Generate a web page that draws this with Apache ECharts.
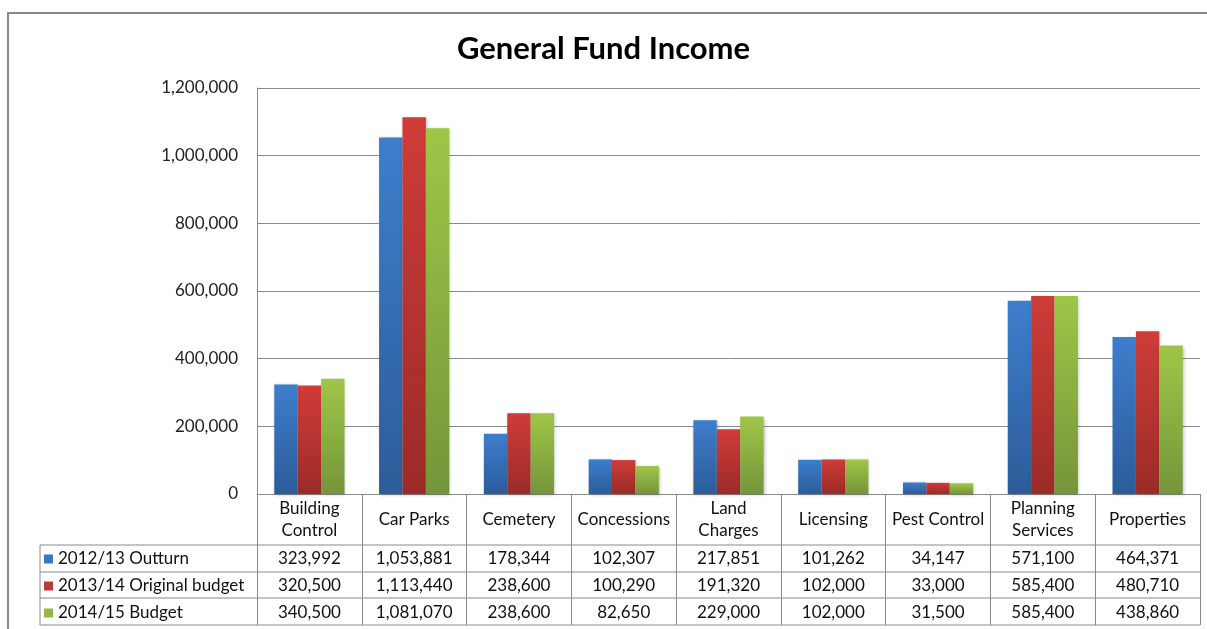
<!DOCTYPE html>
<html>
<head>
<meta charset="utf-8">
<script src="https://cdn.jsdelivr.net/npm/echarts@6/dist/echarts.min.js"></script>
<style>
html,body{margin:0;padding:0;background:#fff;}
#chart{width:1207px;height:629px;}
</style>
</head>
<body>
<div id="chart"></div>
<script>
const categories = ["Building\nControl", "Car Parks", "Cemetery", "Concessions", "Land\nCharges", "Licensing", "Pest Control", "Planning\nServices", "Properties"];
const seriesNames = ["2012/13 Outturn", "2013/14 Original budget", "2014/15 Budget"];
const outturn1213 = [323992, 1053881, 178344, 102307, 217851, 101262, 34147, 571100, 464371];
const original1314 = [320500, 1113440, 238600, 100290, 191320, 102000, 33000, 585400, 480710];
const budget1415 = [340500, 1081070, 238600, 82650, 229000, 102000, 31500, 585400, 438860];
const yTicks = [0, 200000, 400000, 600000, 800000, 1000000, 1200000];

const fmt = v => v.toLocaleString('en-US');
const FONT = 'Lato, "Open Sans", sans-serif';
const grad = (a, b) => new echarts.graphic.LinearGradient(0, 0, 0, 1, [{offset: 0, color: a}, {offset: 1, color: b}]);
const colors = [grad('#3d7ecd', '#2c5c99'), grad('#cf3c39', '#9b2b28'), grad('#9fc647', '#75953a')];
const flatColors = ['#3a76c4', '#c0393a', '#93b944'];
const allSeries = [outturn1213, original1314, budget1415];

const chart = echarts.init(document.getElementById('chart'));
const L = 40, R = 1200, gridColor = '#8a8a8a';
const hline = (y) => ({type: 'line', shape: {x1: L, y1: y, x2: R, y2: y}, style: {stroke: gridColor, lineWidth: 1}, silent: true});

const rowOffsets = [65, 92, 119];
const tableAxes = allSeries.map((arr, i) => ({
  type: 'category', gridIndex: 0, position: 'bottom', offset: rowOffsets[i],
  data: arr.map(fmt),
  axisLine: {show: false}, axisTick: {show: false}, splitLine: {show: false},
  axisLabel: {interval: 0, margin: 0, verticalAlign: 'middle', fontFamily: FONT, fontSize: 17, color: '#111'}
}));

chart.setOption({
  animation: false,
  title: {
    text: 'General Fund Income', left: 'center', top: 28,
    textStyle: {fontFamily: FONT, fontSize: 31, fontWeight: 'bold', color: '#000'}
  },
  legend: {
    orient: 'vertical', left: 44, top: 550, padding: 0, itemGap: 9,
    icon: 'rect', itemWidth: 9, itemHeight: 9,
    data: seriesNames.map((n, i) => ({name: n, itemStyle: {color: flatColors[i]}})),
    textStyle: {fontFamily: FONT, fontSize: 17, color: '#111', lineHeight: 18}
  },
  grid: {left: 257, right: 7, top: 88, bottom: 135, containLabel: false},
  xAxis: [{
    type: 'category', data: categories,
    axisLine: {show: true, lineStyle: {color: gridColor, width: 1}},
    axisTick: {show: true, length: 131, lineStyle: {color: gridColor, width: 1}},
    axisLabel: {interval: 0, margin: 26, verticalAlign: 'middle', fontFamily: FONT, fontSize: 17, lineHeight: 22, color: '#111'}
  }].concat(tableAxes),
  yAxis: {
    type: 'value', min: 0, max: 1200000, interval: 200000,
    axisLine: {show: true, lineStyle: {color: gridColor}},
    axisTick: {show: false},
    splitLine: {lineStyle: {color: gridColor, width: 1}},
    axisLabel: {margin: 19, fontFamily: FONT, fontSize: 17, color: '#222', formatter: v => yTicks.includes(v) ? fmt(v) : ''}
  },
  series: allSeries.map((arr, i) => ({
    name: seriesNames[i], type: 'bar', data: arr,
    barGap: '0%', barCategoryGap: '33%',
    itemStyle: {color: colors[i], shadowBlur: 3, shadowColor: 'rgba(0,0,0,0.25)', shadowOffsetX: 1, shadowOffsetY: 1}
  })),
  graphic: [
    {type: 'rect', shape: {x: 8, y: 13, width: 1300, height: 700}, style: {fill: 'none', stroke: '#888', lineWidth: 2}, silent: true, z: -1},
    hline(545), hline(572), hline(598), hline(625),
    {type: 'line', shape: {x1: L, y1: 545, x2: L, y2: 625}, style: {stroke: gridColor, lineWidth: 1}, silent: true}
  ]
});
</script>
</body>
</html>
